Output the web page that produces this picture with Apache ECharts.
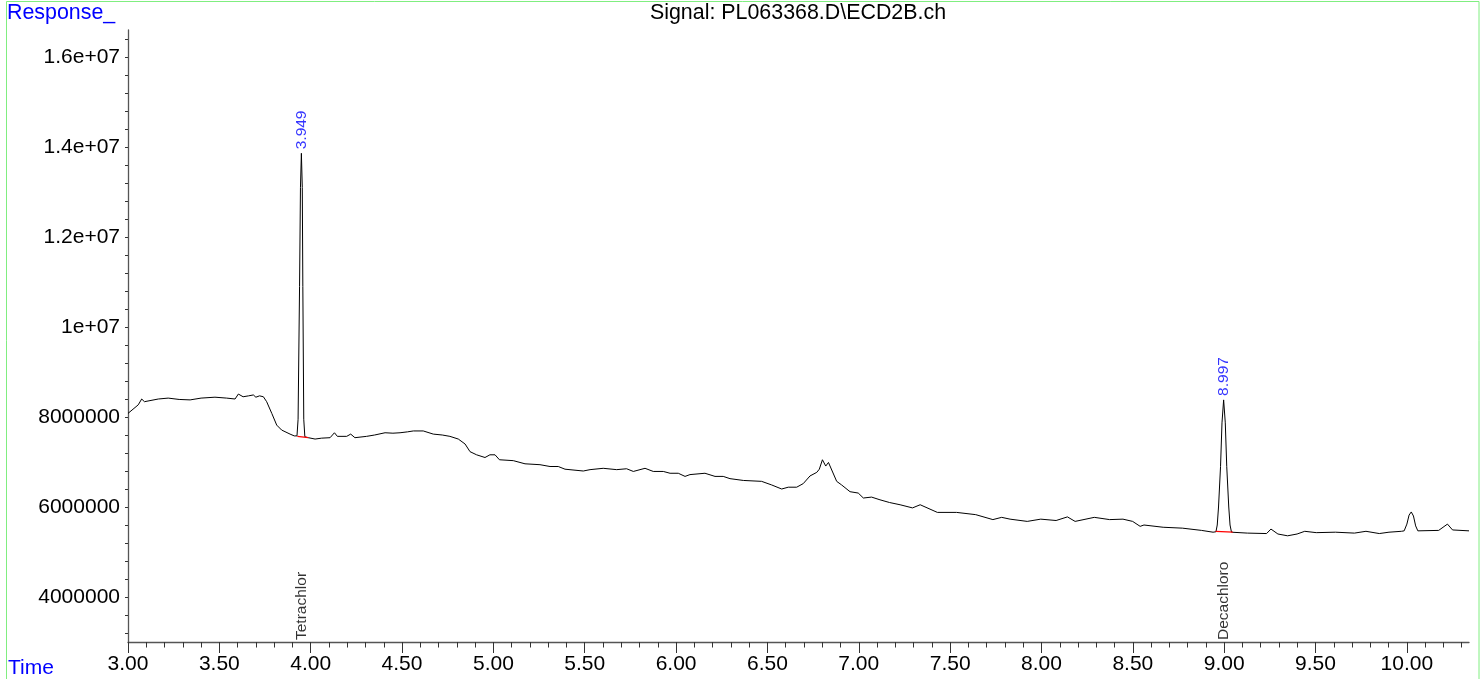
<!DOCTYPE html>
<html>
<head>
<meta charset="utf-8">
<script src="https://cdn.jsdelivr.net/npm/echarts@6/dist/echarts.min.js"></script>
<style>
html,body{margin:0;padding:0;background:#fff;}
#chart{width:1482px;height:679px;}
</style>
</head>
<body>
<div id="chart"></div>
<script>
// Retention time (min)
var times = [
  3.000, 3.056, 3.075, 3.090, 3.166, 3.220, 3.280, 3.340, 3.400, 3.476, 3.540, 3.586, 3.604, 3.630, 3.660, 3.686, 3.700, 3.720, 3.741, 3.759,
  3.787, 3.814, 3.841, 3.887, 3.910, 3.925, 3.931, 3.939, 3.944, 3.949, 3.954, 3.957, 3.962, 3.968, 3.987, 4.024, 4.060, 4.106, 4.130, 4.146,
  4.197, 4.219, 4.242, 4.306, 4.350, 4.407, 4.450, 4.489, 4.530, 4.562, 4.616, 4.671, 4.720, 4.762, 4.808, 4.845, 4.872, 4.908, 4.954, 4.981,
  5.009, 5.033, 5.109, 5.173, 5.255, 5.310, 5.355, 5.392, 5.492, 5.529, 5.601, 5.675, 5.729, 5.766, 5.830, 5.875, 5.930, 5.967, 6.012, 6.049,
  6.076, 6.158, 6.213, 6.258, 6.295, 6.368, 6.468, 6.523, 6.578, 6.614, 6.660, 6.696, 6.733, 6.770, 6.784, 6.801, 6.819, 6.834, 6.879, 6.906,
  6.952, 6.997, 7.025, 7.070, 7.116, 7.168, 7.226, 7.294, 7.336, 7.430, 7.535, 7.640, 7.734, 7.782, 7.828, 7.922, 7.996, 8.080, 8.142, 8.184,
  8.289, 8.373, 8.446, 8.499, 8.540, 8.561, 8.666, 8.771, 8.876, 8.939, 8.955, 8.962, 8.969, 8.980, 8.988, 8.997, 9.006, 9.014, 9.025, 9.032,
  9.040, 9.127, 9.232, 9.256, 9.294, 9.347, 9.399, 9.441, 9.504, 9.609, 9.713, 9.776, 9.849, 9.902, 9.970, 9.985, 10.000, 10.012, 10.024, 10.036,
  10.048, 10.060, 10.174, 10.222, 10.250, 10.340
];
// Detector response
var responses = [
  8080000, 8270000, 8400000, 8340000, 8400000, 8420000, 8390000, 8380000, 8420000, 8440000, 8420000, 8400000, 8510000, 8450000, 8470000, 8490000, 8440000, 8470000, 8450000, 8340000,
  8080000, 7820000, 7710000, 7620000, 7580000, 7580000, 7950000, 10900000, 13100000, 13860000, 13100000, 10900000, 7950000, 7560000, 7540000, 7510000, 7530000, 7540000, 7650000, 7570000,
  7570000, 7620000, 7540000, 7570000, 7600000, 7650000, 7640000, 7650000, 7670000, 7690000, 7690000, 7620000, 7600000, 7570000, 7510000, 7400000, 7230000, 7160000, 7100000, 7160000,
  7160000, 7050000, 7030000, 6960000, 6940000, 6900000, 6900000, 6840000, 6800000, 6830000, 6860000, 6830000, 6850000, 6790000, 6860000, 6790000, 6790000, 6750000, 6750000, 6680000,
  6720000, 6750000, 6680000, 6680000, 6630000, 6590000, 6570000, 6490000, 6400000, 6440000, 6440000, 6520000, 6690000, 6770000, 6840000, 7050000, 6910000, 6990000, 6570000, 6490000,
  6340000, 6310000, 6200000, 6220000, 6160000, 6100000, 6050000, 5980000, 6050000, 5880000, 5880000, 5830000, 5720000, 5770000, 5730000, 5680000, 5730000, 5700000, 5780000, 5680000,
  5770000, 5720000, 5730000, 5680000, 5570000, 5600000, 5550000, 5530000, 5480000, 5440000, 5450000, 5600000, 6000000, 6900000, 7870000, 8380000, 7870000, 6900000, 6000000, 5600000,
  5440000, 5420000, 5410000, 5510000, 5400000, 5360000, 5400000, 5460000, 5430000, 5440000, 5420000, 5460000, 5410000, 5440000, 5460000, 5470000, 5620000, 5820000, 5890000, 5800000,
  5580000, 5470000, 5480000, 5620000, 5490000, 5470000
];
// Integrated peaks
var peakTimes = [3.949, 8.997];
var peakHeights = [13860000, 8380000];
var compoundNames = ['Tetrachlor', 'Decachloro'];
// Integration baselines (start/end time and response)
var baseStartTimes = [3.927, 8.953];
var baseStartValues = [7570000, 5460000];
var baseEndTimes = [3.987, 9.047];
var baseEndValues = [7540000, 5440000];
// Axis ticks
var xTickValues = [3.0, 3.5, 4.0, 4.5, 5.0, 5.5, 6.0, 6.5, 7.0, 7.5, 8.0, 8.5, 9.0, 9.5, 10.0];
var yTickValues = [4000000, 6000000, 8000000, 10000000, 12000000, 14000000, 16000000];
var xMin = 3.0, xMax = 10.34, yMin = 3000000, yMax = 16600000;

var FONT = '"Liberation Sans", Arial, sans-serif';

var trace = times.map(function (t, i) { return [t, responses[i]]; });
var baselineSeries = baseStartTimes.map(function (t, i) {
  return {
    type: 'line', data: [[t, baseStartValues[i]], [baseEndTimes[i], baseEndValues[i]]],
    showSymbol: false, silent: true, animation: false, z: 4,
    lineStyle: { color: '#ff0000', width: 1.3 }
  };
});

function yFmt(v) {
  if (v >= 10000000) {
    return v.toExponential().replace(/e\+(\d)$/, 'e+0$1');
  }
  return String(Math.round(v));
}

var chart = echarts.init(document.getElementById('chart'), null, { renderer: 'canvas' });
chart.setOption({
  animation: false,
  backgroundColor: '#ffffff',
  grid: { left: 128, right: 13, top: 30, bottom: 37, containLabel: false },
  xAxis: {
    type: 'value', min: xMin, max: xMax, interval: 0.5,
    axisLine: { show: true, lineStyle: { color: '#555', width: 1.3 } },
    axisTick: { show: true, length: 11, customValues: xTickValues, lineStyle: { color: '#333', width: 1 } },
    minorTick: { show: true, splitNumber: 5, length: 5.5, lineStyle: { color: '#333', width: 1 } },
    axisLabel: {
      customValues: xTickValues, margin: 12, color: '#000', fontSize: 21, fontFamily: FONT,
      formatter: function (v) { return v.toFixed(2); }
    },
    splitLine: { show: false }
  },
  yAxis: {
    type: 'value', min: yMin, max: yMax, splitNumber: 7,
    axisLine: { show: true, lineStyle: { color: '#555', width: 1.3 } },
    axisTick: { show: true, length: 3, customValues: yTickValues, lineStyle: { color: '#333', width: 1 } },
    minorTick: { show: true, splitNumber: 5, length: 3, lineStyle: { color: '#333', width: 1 } },
    axisLabel: {
      customValues: yTickValues, margin: 8, color: '#000', fontSize: 21, fontFamily: FONT,
      formatter: yFmt
    },
    splitLine: { show: false }
  },
  graphic: [
    { type: 'rect', silent: true, z: 100,
      shape: { x: 6.5, y: 1.5, width: 1472.5, height: 700 },
      style: { fill: 'none', stroke: '#80ee80', lineWidth: 1 } },
    { type: 'text', silent: true, x: 7, y: 3,
      style: { text: 'Response_', fill: '#0000ff', fontSize: 21.4, fontFamily: FONT, textVerticalAlign: 'top' } },
    { type: 'text', silent: true, x: 8, y: 658,
      style: { text: 'Time', fill: '#0000ff', fontSize: 21, fontFamily: FONT, textVerticalAlign: 'top' } },
    { type: 'text', silent: true, x: 798, y: 3,
      style: { text: 'Signal: PL063368.D\\ECD2B.ch', fill: '#000', fontSize: 21.4, fontFamily: FONT, textAlign: 'center', textVerticalAlign: 'top' } }
  ],
  series: [
    {
      type: 'line', data: trace, showSymbol: false, silent: true, z: 3,
      lineStyle: { color: '#000', width: 1 }, sampling: 'none'
    }
  ].concat(baselineSeries).concat([
    {
      type: 'scatter', symbolSize: 0, clip: false, silent: true, z: 5,
      data: peakTimes.map(function (t, i) { return [t, peakHeights[i]]; }),
      label: {
        show: true, position: 'top', distance: 4, rotate: 90, align: 'left', verticalAlign: 'middle',
        color: '#0000ff', fontSize: 15.5, fontFamily: FONT,
        formatter: function (p) { return p.value[0].toFixed(3); }
      }
    },
    {
      type: 'scatter', symbolSize: 0, clip: false, silent: true, z: 5,
      data: peakTimes.map(function (t, i) { return { value: [t, yMin], name: compoundNames[i] }; }),
      label: {
        show: true, position: 'top', distance: 2, rotate: 90, align: 'left', verticalAlign: 'middle',
        color: '#000', fontSize: 15.5, fontFamily: FONT,
        formatter: function (p) { return p.name; }
      }
    }
  ])
});
</script>
</body>
</html>
